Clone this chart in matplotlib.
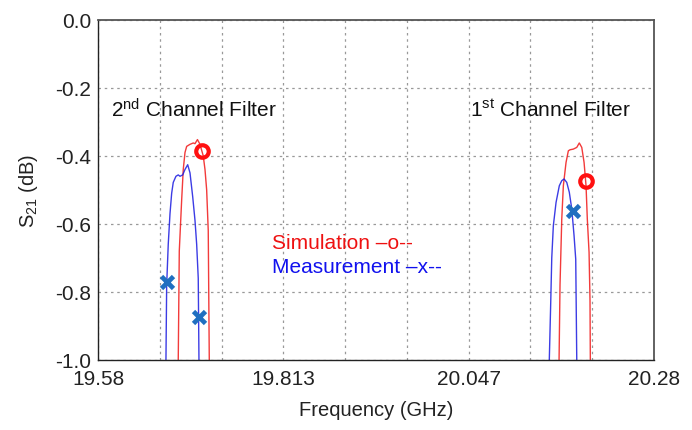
import matplotlib
matplotlib.use("Agg")
import matplotlib.pyplot as plt
import numpy as np

plt.rcParams['font.family'] = ['Liberation Sans', 'DejaVu Sans']
plt.rcParams['mathtext.fontset'] = 'custom'
plt.rcParams['mathtext.rm'] = 'Liberation Sans'
plt.rcParams['mathtext.it'] = 'Liberation Sans'

# ---- data ----
sim2_f = [19.6808, 19.6821, 19.6851, 19.6871, 19.6893, 19.6914, 19.6956, 19.6997, 19.7019,
          19.7050, 19.7082, 19.7123, 19.7145, 19.7166, 19.7186, 19.7199]
sim2_s = [-1.0, -0.68, -0.53, -0.44, -0.39, -0.372, -0.366, -0.362, -0.364,
          -0.352, -0.366, -0.40, -0.44, -0.50, -0.62, -1.0]
meas2_f = [19.6653, 19.6662, 19.6682, 19.6704, 19.6725, 19.6745, 19.6779, 19.6808, 19.6830,
           19.6864, 19.6893, 19.6927, 19.6956, 19.6990, 19.7019, 19.7040, 19.7060, 19.7069]
meas2_s = [-1.0, -0.78, -0.66, -0.57, -0.51, -0.478, -0.46, -0.456, -0.46,
           -0.456, -0.44, -0.426, -0.45, -0.52, -0.59, -0.66, -0.76, -1.0]
sim1_f = [20.1607, 20.1619, 20.1641, 20.1661, 20.1695, 20.1724, 20.1745, 20.1787, 20.1830,
          20.1862, 20.1893, 20.1922, 20.1947, 20.1963, 20.1985, 20.1997, 20.2001]
sim1_s = [-1.0, -0.78, -0.586, -0.488, -0.419, -0.385, -0.382, -0.380, -0.375,
          -0.362, -0.375, -0.419, -0.488, -0.586, -0.684, -0.826, -1.0]
meas1_f = [20.1484, 20.1502, 20.1515, 20.1535, 20.1569, 20.1610, 20.1641, 20.1670, 20.1704,
           20.1736, 20.1767, 20.1796, 20.1817, 20.1830]
meas1_s = [-1.0, -0.83, -0.70, -0.605, -0.537, -0.488, -0.473, -0.468, -0.478,
           -0.507, -0.556, -0.635, -0.704, -1.0]

sim_mark_f = [19.7103, 20.1947]
sim_mark_s = [-0.385, -0.473]
meas_mark_f = [19.6662, 19.7069, 20.1779]
meas_mark_s = [-0.772, -0.875, -0.561]

xtick_labels = ['19.58', '19.813', '20.047', '20.28']
x_min, x_max = 19.58, 20.28
yticks = [0.0, -0.2, -0.4, -0.6, -0.8, -1.0]

# ---- figure ----
fig = plt.figure(figsize=(6.92, 4.31), dpi=100)
ax = fig.add_axes([0.142, 0.163, 0.8027, 0.7883])

red = '#f01818'
blue = '#1a1ae0'
ax.plot(sim2_f, sim2_s, color=red, lw=1.0, alpha=0.85)
ax.plot(sim1_f, sim1_s, color=red, lw=1.0, alpha=0.85)
ax.plot(meas2_f, meas2_s, color=blue, lw=1.0, alpha=0.85)
ax.plot(meas1_f, meas1_s, color=blue, lw=1.0, alpha=0.85)

ax.plot(sim_mark_f, sim_mark_s, ls='none', marker='o', ms=9, mfc='none',
        mec='#ff1010', mew=3)
ax.plot(meas_mark_f, meas_mark_s, ls='none', marker='x', ms=9,
        mec='#1f6fc0', mew=3.4)

ax.set_xlim(x_min, x_max)
ax.set_ylim(-1.0, 0.0)

grid_x = np.linspace(x_min, x_max, 10)
ax.set_xticks(grid_x)
labels = []
for i in range(10):
    labels.append(xtick_labels[i // 3] if i % 3 == 0 else '')
ax.set_xticklabels(labels)
ax.set_yticks(yticks)
ax.set_yticklabels([f'{v:.1f}' for v in yticks])
ax.tick_params(axis='both', which='both', direction='in', length=0,
               labelsize=15, colors='#222222')
ax.tick_params(axis='x', pad=7)
ax.tick_params(axis='y', pad=5)

ax.grid(True, color='#999999', linestyle=(0, (2, 3)), linewidth=0.9)
for s in ax.spines.values():
    s.set_color('#555555')
    s.set_linewidth(1.3)
ax.spines['left'].set_color('#222222')
ax.spines['bottom'].set_color('#222222')
ax.spines['left'].set_linewidth(1.0)
ax.spines['bottom'].set_linewidth(1.0)

ax.set_xlabel('Frequency (GHz)', fontsize=14.5, labelpad=8, color='#222222')
ax.set_ylabel('S$_{21}$ (dB)', fontsize=14.5, labelpad=11, color='#222222')

ax.text(19.596, -0.262, '2$^{\\rm nd}$ Channel Filter', fontsize=15, va='center', ha='left',
        color='#111111')
ax.text(20.048, -0.262, '1$^{\\rm st}$ Channel Filter', fontsize=15, va='center', ha='left',
        color='#111111')
ax.text(19.799, -0.654, 'Simulation \u2013o--', fontsize=15, va='center', ha='left', color='#ee1111')
ax.text(19.799, -0.727, 'Measurement \u2013x--', fontsize=15, va='center', ha='left', color='#1111ee')

fig.savefig('out.png', dpi=100)
